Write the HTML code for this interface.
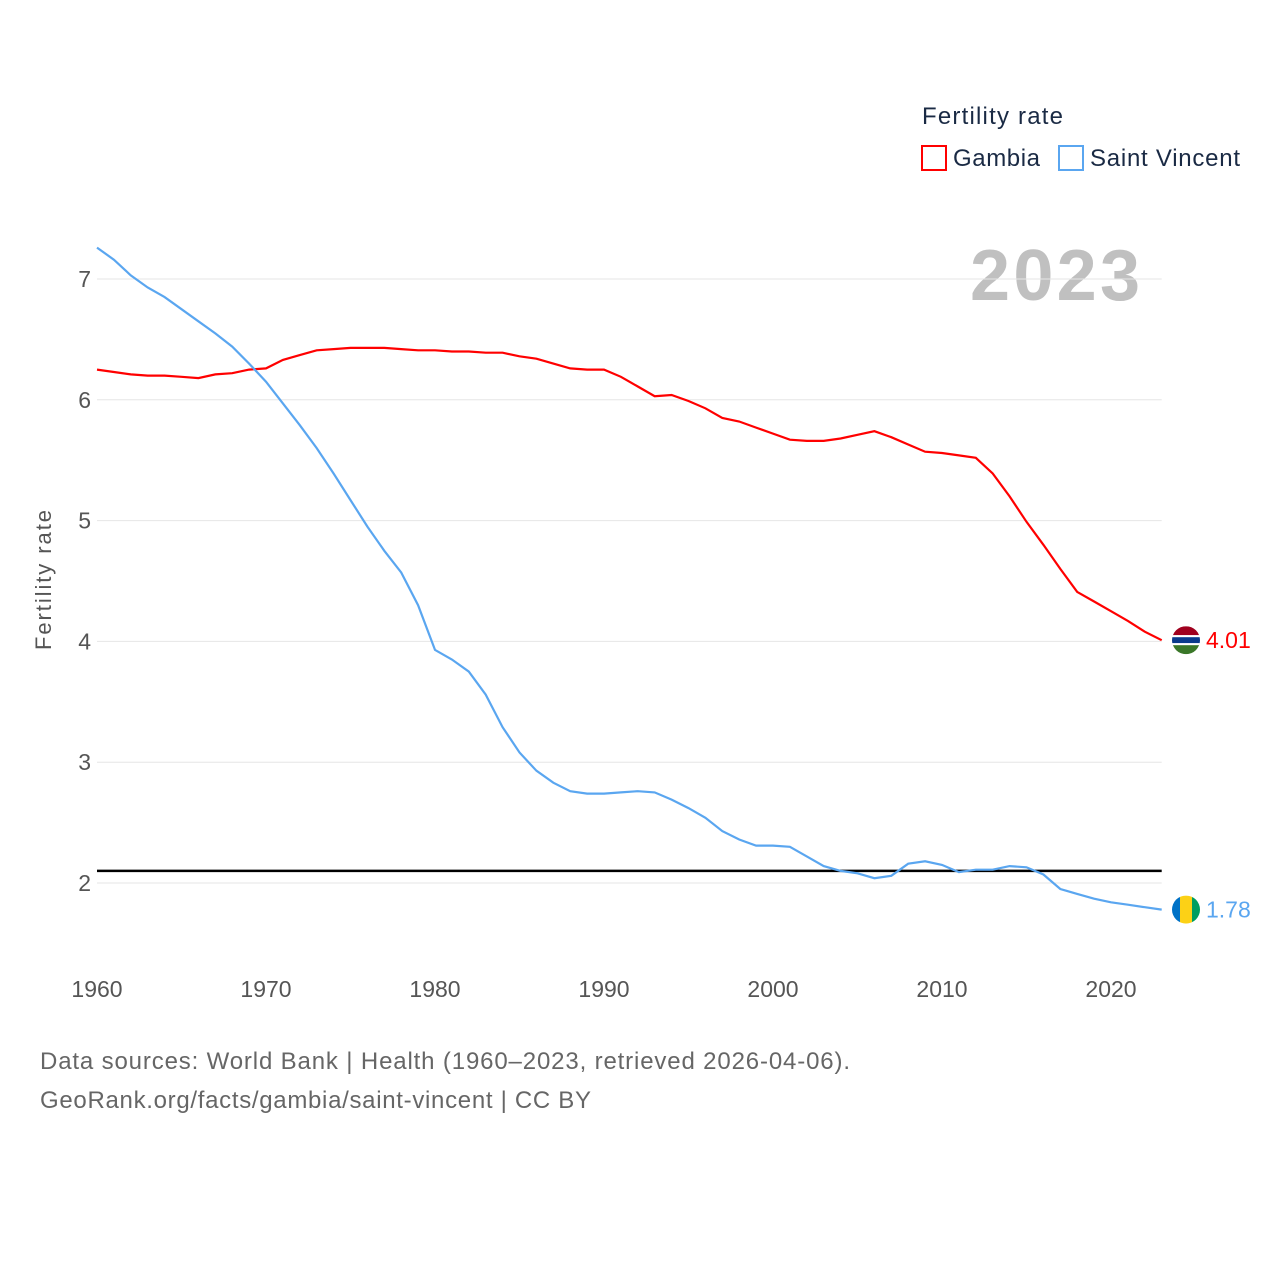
<!DOCTYPE html>
<html><head><meta charset="utf-8">
<style>
body{margin:0;background:#fff;font-family:"Liberation Sans",sans-serif;}
svg{display:block}
</style></head>
<body>
<svg id="chart" width="1280" height="1280" xmlns="http://www.w3.org/2000/svg">
<rect width="1280" height="1280" fill="#fff"/>
<defs id="defs"></defs>
<text x="922" y="124" font-size="24" fill="#1a2a44" textLength="141">Fertility rate</text>
<rect x="922" y="146" width="24" height="24" fill="none" stroke="#ff0000" stroke-width="2"/>
<text x="953" y="166" font-size="24" fill="#1a2a44" textLength="87">Gambia</text>
<rect x="1059" y="146" width="24" height="24" fill="none" stroke="#5aa6f0" stroke-width="2"/>
<text x="1090" y="166" font-size="24" fill="#1a2a44" textLength="150">Saint Vincent</text>
<text x="1140" y="300" font-size="72" font-weight="bold" fill="#c0c0c0" text-anchor="end" textLength="170">2023</text>
<text transform="translate(51,580) rotate(-90)" font-size="22" fill="#555" text-anchor="middle" textLength="140">Fertility rate</text>
<g id="grid"></g><g id="ticks"></g><g id="lines"></g>
<text x="40" y="1069" font-size="24" fill="#666" textLength="810">Data sources: World Bank | Health (1960–2023, retrieved 2026-04-06).</text>
<text x="40" y="1108" font-size="24" fill="#666" textLength="551">GeoRank.org/facts/gambia/saint-vincent | CC BY</text>
</svg>
<script>
const years=[];for(let y=1960;y<=2023;y++)years.push(y);
const gambia=[6.25,6.23,6.21,6.20,6.20,6.19,6.18,6.21,6.22,6.25,6.26,6.33,6.37,6.41,6.42,6.43,6.43,6.43,6.42,6.41,6.41,6.40,6.40,6.39,6.39,6.36,6.34,6.30,6.26,6.25,6.25,6.19,6.11,6.03,6.04,5.99,5.93,5.85,5.82,5.77,5.72,5.67,5.66,5.66,5.68,5.71,5.74,5.69,5.63,5.57,5.56,5.54,5.52,5.39,5.20,4.99,4.80,4.60,4.41,4.33,4.25,4.17,4.08,4.01];
const stVincent=[7.26,7.16,7.03,6.93,6.85,6.75,6.65,6.55,6.44,6.30,6.15,5.97,5.79,5.60,5.39,5.17,4.95,4.75,4.57,4.30,3.93,3.85,3.75,3.56,3.29,3.08,2.93,2.83,2.76,2.74,2.74,2.75,2.76,2.75,2.69,2.62,2.54,2.43,2.36,2.31,2.31,2.30,2.22,2.14,2.10,2.08,2.04,2.06,2.16,2.18,2.15,2.09,2.11,2.11,2.14,2.13,2.07,1.95,1.91,1.87,1.84,1.82,1.80,1.78];
const yTicks=[2,3,4,5,6,7];
const xTicks=[1960,1970,1980,1990,2000,2010,2020];
const replacement=2.1;
const NS="http://www.w3.org/2000/svg";
const X=y=>97+(y-1960)*(1111-97)/60;
const Y=v=>883-(v-2)*120.8;
const x0=97,x1=X(2023);
function mk(tag,attrs,parent){const e=document.createElementNS(NS,tag);for(const k in attrs)e.setAttribute(k,attrs[k]);document.getElementById(parent).appendChild(e);return e;}
yTicks.forEach(t=>{
 const l=mk('line',{x1:x0,x2:x1,y1:Y(t),y2:Y(t),stroke:'#e6e6e6','stroke-width':1},'grid');
 
 
 const tx=mk('text',{x:91,y:Y(t)+8,'font-size':23,fill:'#555','text-anchor':'end'},'ticks');tx.textContent=t;
 
 
});
xTicks.forEach(t=>{
 const tx=mk('text',{x:X(t),y:997,'font-size':23,fill:'#555','text-anchor':'middle'},'ticks');tx.textContent=t;
 
 
});
const rl=mk('line',{x1:x0,x2:x1,y1:Y(replacement),y2:Y(replacement),stroke:'#000','stroke-width':2.5},'lines');


function series(arr,color,name){
 const d=arr.map((v,i)=>(i?'L':'M')+X(years[i]).toFixed(1)+' '+Y(v).toFixed(1)).join(' ');
 const p=mk('path',{d:d,fill:'none',stroke:color,'stroke-width':2.2},'lines');
 
 
 const last=arr[arr.length-1],cx=1186,cy=Y(last);
 const cp=mk('clipPath',{id:'clip-'+name},'defs');
 const cc=document.createElementNS(NS,'circle');cc.setAttribute('cx',cx);cc.setAttribute('cy',cy);cc.setAttribute('r',14);cp.appendChild(cc);
 const g=mk('g',{'clip-path':'url(#clip-'+name+')'},'lines');
 
 
 const stripes=name==='gambia'
  ?[[0,0,28,9,'#a0001e'],[0,9,28,2,'#fff'],[0,11,28,6,'#0a3a8c'],[0,17,28,2,'#fff'],[0,19,28,9,'#3a7728']]
  :[[0,0,8,28,'#0072c6'],[8,0,12,28,'#fcd116'],[20,0,8,28,'#009e60']];
 stripes.forEach(s=>{const r=document.createElementNS(NS,'rect');r.setAttribute('x',cx-14+s[0]);r.setAttribute('y',cy-14+s[1]);r.setAttribute('width',s[2]);r.setAttribute('height',s[3]);r.setAttribute('fill',s[4]);g.appendChild(r);});
 const t=mk('text',{x:1206,y:cy+8,'font-size':23,fill:color},'lines');t.textContent=last.toFixed(2);
 
 
}
series(gambia,'#ff0000','gambia');
series(stVincent,'#5aa6f0','saint-vincent');
</script>
</body></html>
